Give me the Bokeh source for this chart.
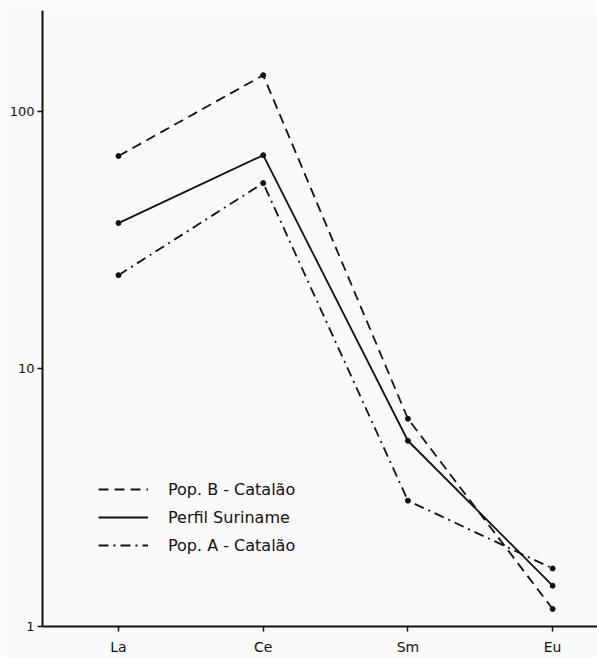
from bokeh.plotting import figure
from bokeh.models import FixedTicker, Legend, LegendItem, ColumnDataSource
from bokeh.embed import file_html
from bokeh.resources import INLINE

# --- data ---
elements = ["La", "Ce", "Sm", "Eu"]
pop_b_catalao = [67, 138, 6.4, 1.17]
perfil_suriname = [36.8, 67.5, 5.26, 1.44]
pop_a_catalao = [23.1, 52.6, 3.08, 1.68]
y_ticks = [1, 10, 100]
y_tick_labels = ["1", "10", "100"]

xpos = list(range(1, len(elements) + 1))
FONT = "DejaVu Sans"

p = figure(width=597, height=657, output_backend="svg", toolbar_location=None,
           y_axis_type="log", x_range=(0.475, 4.31), y_range=(1, 246),
           min_border_left=42, min_border_right=0, min_border_top=10, min_border_bottom=30)
p.outline_line_color = None
p.background_fill_color = "#fafafa"
p.border_fill_color = "#fafafa"
p.xgrid.visible = False
p.ygrid.visible = False

series = [
    ("Pop. B - Catalão", pop_b_catalao, "10 6"),
    ("Perfil Suriname", perfil_suriname, "solid"),
    ("Pop. A - Catalão", pop_a_catalao, "10 5 2 5"),
]
items = []
for name, vals, dash in series:
    src = ColumnDataSource(dict(x=xpos, y=vals))
    r = p.line("x", "y", source=src, line_color="#111111", line_width=1.8, line_dash=dash)
    p.scatter("x", "y", source=src, size=5, color="#111111")
    items.append(LegendItem(label=name, renderers=[r]))

legend = Legend(items=items, location=(56, 71), padding=0, margin=0,
                glyph_width=50, glyph_height=20, label_height=20, spacing=8,
                label_standoff=20, label_text_font=FONT, label_text_font_size="16px",
                label_text_color="#111111", background_fill_alpha=0, border_line_alpha=0)
p.add_layout(legend, "center")

# x axis
p.xaxis.ticker = FixedTicker(ticks=xpos)
p.xaxis.major_label_overrides = {x: e for x, e in zip(xpos, elements)}
p.xaxis.minor_tick_line_color = None
p.xaxis.major_tick_in = 0
p.xaxis.major_tick_out = 5
p.xaxis.major_label_standoff = 7
p.xaxis.axis_line_width = 2
p.xaxis.axis_line_color = "#111111"
p.xaxis.major_tick_line_color = "#111111"
p.xaxis.major_tick_line_width = 1.5
p.xaxis.major_label_text_font = FONT
p.xaxis.major_label_text_font_size = "14px"
p.xaxis.major_label_text_color = "#111111"

# y axis
p.yaxis.ticker = FixedTicker(ticks=y_ticks, minor_ticks=[])
p.yaxis.major_label_overrides = {t: l for t, l in zip(y_ticks, y_tick_labels)}
p.yaxis.minor_tick_line_color = None
p.yaxis.major_tick_in = 0
p.yaxis.major_tick_out = 5
p.yaxis.major_label_standoff = 3
p.yaxis.axis_line_width = 2
p.yaxis.axis_line_color = "#111111"
p.yaxis.major_tick_line_color = "#111111"
p.yaxis.major_tick_line_width = 1.5
p.yaxis.major_label_text_font = FONT
p.yaxis.major_label_text_font_size = "13px"
p.yaxis.major_label_text_color = "#111111"

open("out.html", "w").write(file_html(p, INLINE))
